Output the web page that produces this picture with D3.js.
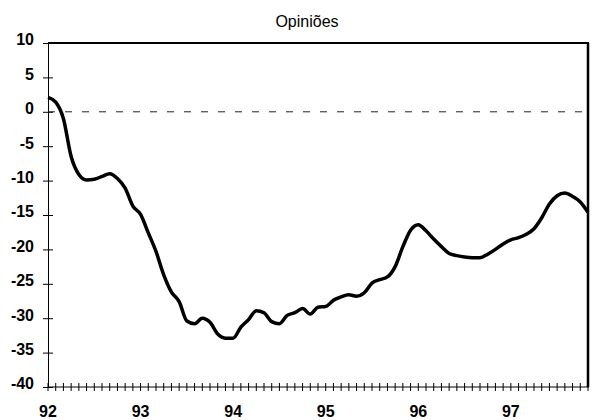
<!DOCTYPE html>
<html>
<head>
<meta charset="utf-8">
<script src="https://cdn.jsdelivr.net/npm/d3@7"></script>
<style>
  body { margin: 0; background: #fff; }
  svg { display: block; }
</style>
</head>
<body>
<div id="chart"></div>
<script>
// monthly values, Jan 92 .. Nov 97
const months = d3.range(0, 71)
const opinioes = [
  2.1, 1.4, -1.0, -6.5, -9.1, -9.9, -9.8, -9.4, -9.0, -9.7, -11.1, -13.7,
  -14.9, -17.6, -20.3, -23.7, -26.2, -27.6, -30.4, -30.8, -30.0, -30.6, -32.3, -32.9,
  -32.9, -31.3, -30.2, -28.9, -29.2, -30.5, -30.8, -29.6, -29.2, -28.6, -29.4, -28.4,
  -28.3, -27.4, -26.9, -26.6, -26.8, -26.3, -24.9, -24.4, -24.0, -22.5, -19.6, -17.2,
  -16.4, -17.3, -18.5, -19.6, -20.6, -20.9, -21.1, -21.2, -21.2, -20.7, -20.0, -19.2,
  -18.6, -18.3, -17.8, -17.0, -15.4, -13.4, -12.2, -11.8, -12.3, -13.1, -14.6
]
const yearLabels = ["92", "93", "94", "95", "96", "97"]
const yTicks = [10, 5, 0, -5, -10, -15, -20, -25, -30, -35, -40]

const W = 592, H = 420
const margin = { top: 43, right: 3, bottom: 33, left: 48 }
const width = W - margin.left - margin.right
const height = H - margin.top - margin.bottom

const svg = d3.select("#chart").append("svg")
    .attr("width", W)
    .attr("height", H)

const g = svg.append("g")
    .attr("transform", "translate(" + margin.left + "," + margin.top + ")")

const x = d3.scaleLinear().domain([0, 70]).range([0, width - 1])
const y = d3.scaleLinear().domain([-40, 10]).range([height, 0])

// title
svg.append("text")
    .attr("x", 307)
    .attr("y", 27)
    .attr("text-anchor", "middle")
    .style("font-family", "Arial, 'Liberation Sans', sans-serif")
    .style("font-size", "16px")
    .text("Opiniões")

// frame: thick top and right
g.append("line")
    .attr("x1", 0).attr("x2", width)
    .attr("y1", 0).attr("y2", 0)
    .attr("stroke", "#000").attr("stroke-width", 2)
g.append("line")
    .attr("x1", width - 1).attr("x2", width - 1)
    .attr("y1", 0).attr("y2", height)
    .attr("stroke", "#000").attr("stroke-width", 2.5)

// y axis (plain hyphen for negatives, like the original)
const yAxis = g.append("g")
    .call(d3.axisLeft(y).tickValues(yTicks).tickFormat(d => String(d)).tickSize(0).tickPadding(14))
yAxis.select(".domain").attr("stroke", "#000").attr("stroke-width", 1)
yAxis.selectAll(".tick text")
    .attr("dy", "0.12em")
    .style("font-family", "Arial, 'Liberation Sans', sans-serif")
    .style("font-weight", "bold")
    .style("font-size", "16px")
    .attr("fill", "#000")
yAxis.selectAll(".tick").append("line")
    .attr("x1", -5).attr("x2", 5)
    .attr("stroke", "#000").attr("stroke-width", 1)

// x axis with monthly ticks crossing the line
const xAxis = g.append("g")
    .attr("transform", "translate(0," + height + ")")
xAxis.append("line")
    .attr("x1", 0).attr("x2", width)
    .attr("stroke", "#000").attr("stroke-width", 1)
xAxis.selectAll(".mtick")
    .data(months)
    .enter()
    .append("line")
        .attr("class", "mtick")
        .attr("x1", d => x(d)).attr("x2", d => x(d))
        .attr("y1", -4).attr("y2", 4)
        .attr("stroke", "#000").attr("stroke-width", 1)
xAxis.selectAll(".ylab")
    .data(yearLabels)
    .enter()
    .append("text")
        .attr("class", "ylab")
        .attr("x", (d, i) => x(i * 12))
        .attr("y", 30)
        .attr("text-anchor", "middle")
        .style("font-family", "Arial, 'Liberation Sans', sans-serif")
        .style("font-weight", "bold")
        .style("font-size", "16px")
        .text(d => d)

// dashed zero line
g.append("line")
    .attr("x1", 0).attr("x2", width - 2)
    .attr("y1", y(0)).attr("y2", y(0))
    .attr("stroke", "#222")
    .attr("stroke-width", 1)
    .attr("stroke-dasharray", "7,10")

// the series
const line = d3.line()
    .x((d, i) => x(months[i]))
    .y(d => y(d))
    .curve(d3.curveMonotoneX)

g.append("path")
    .datum(opinioes)
    .attr("d", line)
    .attr("fill", "none")
    .attr("stroke", "#000")
    .attr("stroke-width", 3.5)
    .attr("stroke-linejoin", "round")
</script>
</body>
</html>
